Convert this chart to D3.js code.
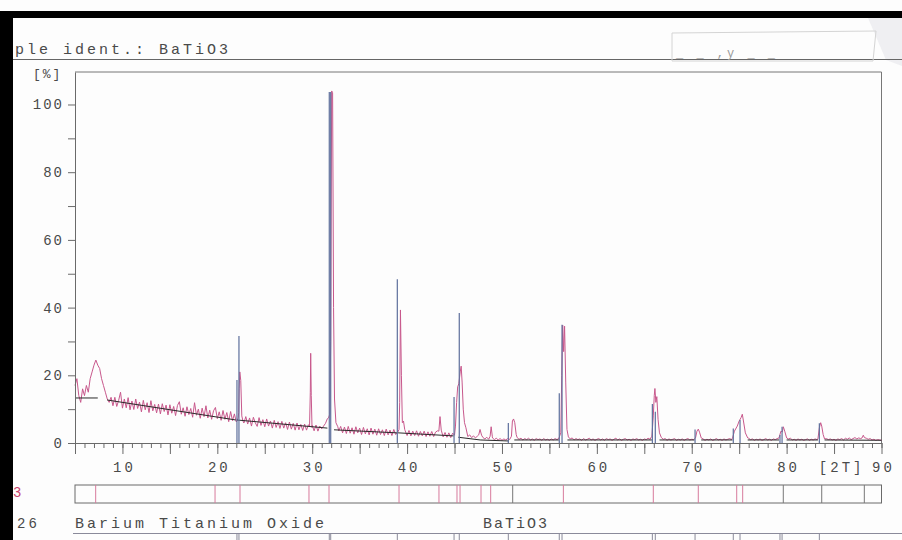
<!DOCTYPE html>
<html><head><meta charset="utf-8">
<script src="https://cdn.jsdelivr.net/npm/d3@7"></script>
<style>
html,body{margin:0;padding:0;background:#fdfdfd;}
svg{display:block;}
text{font-family:"Liberation Mono","DejaVu Sans Mono",monospace;fill:#4a4a4a;}
</style></head>
<body>
<svg id="c" width="902" height="540"></svg>
<script>
// ---------- data ----------
const scanStart = 5, scanStep = 0.2;
const scanIntensity = [
 17,19,14,12,16,14,17,15,19,21,
 23,24.5,23,22,19,17,15,13,12,13.5,
 11,13.5,10.8,12.6,15.0,10.3,13.0,10.4,13.4,9.8,
 12.4,9.9,13.0,10.2,12.1,9.2,12.6,9.8,11.9,9.0,
 12.5,9.5,11.4,8.9,11.5,8.6,11.6,9.3,11.2,8.3,
 11.3,8.8,10.8,8.1,11.1,12.2,8.5,10.4,7.9,10.7,
 8.4,10.2,7.6,11.9,8.2,10.0,7.3,10.3,7.8,11.0,
 7.4,9.7,7.0,9.5,10.5,7.2,9.2,6.7,9.6,7.0,
 9.0,6.3,9.3,6.6,8.6,6.2,7.4,6.5,7.0,5.9,
 7.8,5.6,7.4,5.0,7.6,6.0,4.9,7.5,5.2,6.9,
 4.8,7.1,5.0,6.5,4.4,6.7,4.6,6.3,4.3,6.4,
 4.4,6.0,4.0,6.2,4.1,5.8,3.8,5.9,3.9,5.5,
 3.7,5.6,3.8,5.4,4.4,5.2,3.6,5.3,3.5,5.0,
 4.2,5.0,5.8,7.2,8,30,40,12,6,3.6,
 4.9,3.0,4.7,2.8,4.9,2.9,4.5,2.6,4.8,3.0,
 4.4,2.5,4.6,2.7,4.2,2.4,4.4,2.6,4.1,2.3,
 4.2,2.5,3.9,2.2,4.1,2.4,3.8,2.2,4.0,2.5,
 3.1,12,20,6,3.6,2.2,3.7,2.1,3.5,2.2,
 3.6,2.0,3.4,2.1,3.5,1.9,3.3,2.0,3.4,1.9,
 3.2,3.6,7,2.8,1.8,3.1,1.7,3.0,1.6,2.9,
 2.3,12,17,22,18,6,4.5,1.9,2.4,1.6,
 2.1,1.5,2.0,4,4,1.6,1.2,1.7,1.1,4,
 1.5,1.0,1.4,0.9,1.3,0.8,1.2,0.9,1.3,1.0,
 6,7,5,1.6,1.1,1.4,0.9,1.3,1.0,1.4,
 0.9,1.2,0.8,1.3,1.0,1.2,0.8,1.3,0.9,1.1,
 0.8,1.2,0.9,1.3,1.0,1.4,20,34,34,18,
 1.8,1.2,1.5,0.9,1.3,1.0,1.2,0.8,1.3,0.9,
 1.1,1.4,0.9,1.2,0.8,1.1,1.3,0.9,1.2,0.8,
 1.3,1.0,1.2,0.8,1.1,1.4,0.9,1.2,0.8,1.1,
 1.3,0.9,1.1,0.8,1.2,1.0,1.3,0.9,1.1,0.8,
 1.2,1.0,1.4,1.1,8,16,13,7,3,1.6,
 1.1,1.3,0.8,1.2,0.9,1.1,1.3,0.8,1.1,0.9,
 1.2,0.8,1.1,1.3,0.9,1.1,1.0,3,4,3,
 1.5,1.2,0.8,1.1,0.9,1.2,0.8,1.0,1.3,0.9,
 1.1,0.8,1.2,0.9,1.1,1.3,1.0,3,4,5,
 6,7,8,6,3,1.4,1.0,1.2,0.8,1.1,
 0.9,1.2,0.8,1.0,1.3,0.9,1.1,0.8,1.2,1.0,
 1.3,3,4,4,3,1.5,1.2,1.4,0.9,1.1,
 0.8,1.2,0.9,1.1,0.8,1.0,1.2,0.8,1.1,0.9,
 1.2,1.0,4,5,2,1.2,1.3,1.0,1.2,0.9,
 1.1,0.8,1.2,1.0,1.3,0.9,1.4,1.1,1.5,1.0,
 1.3,1.6,1.2,1.5,1.3,2,2,1.4,1.1,1.3,
 0.9,1.1,0.8,1.0,0.9,0.8
];
// measured peak profiles [2theta, %]
const peakGroups = [
 [[22.25,9],[22.3,16],[22.37,21],[22.47,18.5],[22.58,8],[22.7,6.5]],
 [[29.72,5],[29.8,15],[29.84,26.5],[29.9,14],[29.98,4.6]],
 [[31.72,7.4],[31.85,8.5],[31.95,30],[32.05,104],[32.15,103.5],[32.25,40],[32.35,13],[32.5,6],[32.7,4.8]],
 [[39.15,4],[39.22,12],[39.3,39.3],[39.4,20],[39.5,6],[39.62,6.5],[39.75,4]],
 [[43.35,3.5],[43.47,7.8],[43.6,3.8]],
 [[45.1,5],[45.22,12],[45.33,16.6],[45.45,17.5],[45.6,21],[45.7,22.7],[45.8,18],[45.92,10],[46.05,6],[46.2,4.5]],
 [[47.55,2.4],[47.69,4],[47.85,2.3]],
 [[48.75,2],[48.86,4.8],[48.98,2]],
 [[51.0,2],[51.1,6.5],[51.22,7.1],[51.35,6],[51.5,2.5]],
 [[56.2,3],[56.3,20],[56.4,34.8],[56.5,27],[56.6,34.5],[56.72,18],[56.85,4]],
 [[65.8,2],[65.95,8],[66.05,14],[66.12,16.1],[66.22,12],[66.32,13.7],[66.45,7],[66.6,3]],
 [[70.4,1.5],[70.55,3.5],[70.69,4.1],[70.82,3.2],[71.0,1.5]],
 [[74.3,1.5],[74.5,3.5],[74.8,5],[75.0,6.5],[75.2,7.5],[75.33,8.5],[75.45,6.5],[75.65,3],[75.9,1.5]],
 [[79.2,1.5],[79.4,3.5],[79.55,3.3],[79.65,4.8],[79.8,3.5],[80.0,1.5]],
 [[83.3,1.2],[83.45,4.5],[83.59,6],[83.7,5],[83.85,2.5],[84.0,1.2]],
 [[87.95,1.5],[88.08,2.3],[88.2,1.6]]
];
// reference pattern sticks [2theta, %]
const refSticks = [
 [22.07,18.6],[22.28,31.6],[31.8,103.7],[31.95,103.7],[38.97,48.4],
 [44.95,13.6],[45.5,38.4],[50.67,5.9],[56.04,14.7],[56.33,34.9],
 [65.85,11.5],[66.16,9.2],[70.35,4.0],[74.38,4.3],[75.09,6.8],
 [79.3,2.4],[79.52,4.8],[83.45,5.8]
];
// fitted background segments [2theta0, %0, 2theta1, %1]
const bgSegments = [
 [5.0,13.3,7.4,13.3],[8.4,12.7,21.95,6.8],[22.05,6.8,31.6,4.4],
 [32.3,3.9,38.95,3.0],[39.05,3.0,44.9,2.1],[45.4,1.7,47.7,0.9],
 [47.7,0.9,50.7,0.6],[51.3,0.9,56.0,0.9],[56.9,0.9,65.8,0.9],
 [66.6,0.9,70.3,0.9],[71.0,0.9,74.3,0.9],[75.9,0.9,79.2,0.9],
 [80.0,0.9,83.3,0.9],[84.0,0.9,90.0,0.8]
];
const foundPeaks = [7.18,19.76,22.39,29.66,31.77,39.15,43.36,45.26,45.58,47.79,48.81,56.47,65.95,70.69,74.74,75.37];
const matchedPeaks = [51.13,79.65,83.7,88.19];
const yTickValues = [0,10,20,30,40,50,60,70,80,90,100];
const yLabelValues = [0,20,40,60,80,100];
const xLabelValues = [10,20,30,40,50,60,70,80,90];
const xDomain = [5,90], yDomain = [0,109.6];

// ---------- drawing ----------
const svg = d3.select("#c");
const x = d3.scaleLinear().domain(xDomain).range([75,881.5]);
const y = d3.scaleLinear().domain(yDomain).range([443,72]);
const mono = '"Liberation Mono","DejaVu Sans Mono",monospace';

// scan borders / page artefacts
svg.append("rect").attr("x",0).attr("y",0).attr("width",902).attr("height",540).attr("fill","#fdfdfd");
svg.append("polygon").attr("points","868,18 902,18 902,66 886,60").attr("fill","#efeff2");
svg.append("rect").attr("x",0).attr("y",11).attr("width",902).attr("height",7).attr("fill","#000");
svg.append("rect").attr("x",0).attr("y",11).attr("width",13).attr("height",529).attr("fill","#000");

// header
svg.append("text").attr("x",15).attr("y",54).attr("font-size",15).style("letter-spacing","3px").text("ple ident.: BaTiO3");
svg.append("line").attr("x1",13).attr("x2",902).attr("y1",59.5).attr("y2",59.5).attr("stroke","#666").attr("stroke-width",1);
svg.append("polygon").attr("points","672,33 876,31 873,61 672,61").attr("fill","none").attr("stroke","#d4d4d4").attr("stroke-width",1);
svg.append("text").attr("x",676).attr("y",57).attr("font-size",12).style("fill","#9a9a9a").style("letter-spacing","3px").text("_ _ ,y _ _");

// plot frame
svg.append("line").attr("x1",x(5)).attr("x2",x(90)).attr("y1",y(yDomain[1])).attr("y2",y(yDomain[1])).attr("stroke","#777");
svg.append("line").attr("x1",x(90)).attr("x2",x(90)).attr("y1",y(yDomain[1])).attr("y2",y(0)).attr("stroke","#777");

// measured scan (merge step scan with peak profiles)
const ranges = peakGroups.map(g => [g[0][0], g[g.length-1][0]]);
const scanPts = scanIntensity.map((v,i) => [scanStart + i*scanStep, v])
  .filter(p => !ranges.some(r => p[0] >= r[0]-1e-9 && p[0] <= r[1]+1e-9));
const allPts = scanPts.concat(peakGroups.flat()).sort((a,b) => a[0]-b[0]);
const line = d3.line().x(d => x(d[0])).y(d => y(d[1]));
svg.append("path").datum(allPts).attr("d",line).attr("fill","none")
  .attr("stroke","#c8588c").attr("stroke-width",1).attr("stroke-linejoin","round");

// background segments
svg.append("g").selectAll("line").data(bgSegments).join("line")
  .attr("x1",d=>x(d[0])).attr("y1",d=>y(d[1])).attr("x2",d=>x(d[2])).attr("y2",d=>y(d[3]))
  .attr("stroke","#2a2a2a").attr("stroke-width",1);

// reference sticks
svg.append("g").selectAll("line").data(refSticks).join("line")
  .attr("x1",d=>x(d[0])).attr("x2",d=>x(d[0])).attr("y1",y(0)).attr("y2",d=>y(d[1]))
  .attr("stroke","#5d6f9c").attr("stroke-width",1.2);

// y axis
const yAxis = d3.axisLeft(y).tickValues(yTickValues).tickSize(7).tickSizeOuter(0)
  .tickFormat(d => yLabelValues.includes(d) ? d : "");
const gy = svg.append("g").attr("transform",`translate(${x(5)},0)`).call(yAxis);
gy.select(".domain").attr("stroke","#6a6a6a");
gy.selectAll(".tick line").attr("stroke","#6a6a6a");
gy.selectAll("text").attr("x",-11).attr("font-family",mono).attr("font-size",14)
  .style("letter-spacing","2px").style("fill","#4a4a4a");
svg.append("text").attr("x",33).attr("y",78).attr("font-size",13).style("letter-spacing","2px").text("[%]");

// x axis: minor (1 deg) and major (5 deg) ticks
const xMinor = d3.axisBottom(x).tickValues(d3.range(5,91,1)).tickSize(5).tickSizeOuter(0).tickFormat("");
const gxm = svg.append("g").attr("transform",`translate(0,${y(0)})`).call(xMinor);
gxm.select(".domain").attr("stroke","#6a6a6a");
gxm.selectAll(".tick line").attr("stroke","#6a6a6a");
const xMajor = d3.axisBottom(x).tickValues(d3.range(5,91,5)).tickSize(11).tickSizeOuter(0)
  .tickFormat(d => xLabelValues.includes(d) ? d : "");
const gx = svg.append("g").attr("transform",`translate(0,${y(0)})`).call(xMajor);
gx.select(".domain").remove();
gx.selectAll(".tick line").attr("stroke","#6a6a6a");
gx.selectAll("text").attr("y",29).attr("dy",0).attr("dx",1.5).attr("font-family",mono).attr("font-size",14)
  .style("letter-spacing","3px").style("fill","#4a4a4a");
svg.append("text").attr("x",x(85.8)).attr("y",472).attr("text-anchor","middle").attr("font-size",14)
  .style("letter-spacing","3px").text("[2T]");

// peak marker band
const bandTop = 485, bandBot = 503;
svg.append("rect").attr("x",x(5)).attr("y",bandTop).attr("width",x(90)-x(5)).attr("height",bandBot-bandTop)
  .attr("fill","none").attr("stroke","#6a6a6a");
svg.append("g").selectAll("line").data(foundPeaks).join("line")
  .attr("x1",d=>x(d)).attr("x2",d=>x(d)).attr("y1",bandTop).attr("y2",bandBot)
  .attr("stroke","#d77a9c").attr("stroke-width",1);
svg.append("g").selectAll("line").data(matchedPeaks).join("line")
  .attr("x1",d=>x(d)).attr("x2",d=>x(d)).attr("y1",bandTop).attr("y2",bandBot)
  .attr("stroke","#777").attr("stroke-width",1);
svg.append("text").attr("x",13).attr("y",497).attr("font-size",14).style("fill","#c9436e").text("3");

// reference card row
svg.append("text").attr("x",17).attr("y",528).attr("font-size",14).style("letter-spacing","3px").text("26");
svg.append("text").attr("x",75).attr("y",528).attr("font-size",15).style("letter-spacing","3px").text("Barium Titanium Oxide");
svg.append("text").attr("x",483).attr("y",528).attr("font-size",15).style("letter-spacing","2px").text("BaTiO3");
svg.append("line").attr("x1",73).attr("x2",902).attr("y1",533.5).attr("y2",533.5).attr("stroke","#8a8a9a");
svg.append("g").selectAll("line").data(refSticks).join("line")
  .attr("x1",d=>x(d[0])).attr("x2",d=>x(d[0])).attr("y1",533.5).attr("y2",540)
  .attr("stroke","#8a8a9a").attr("stroke-width",1);
</script>
</body></html>
